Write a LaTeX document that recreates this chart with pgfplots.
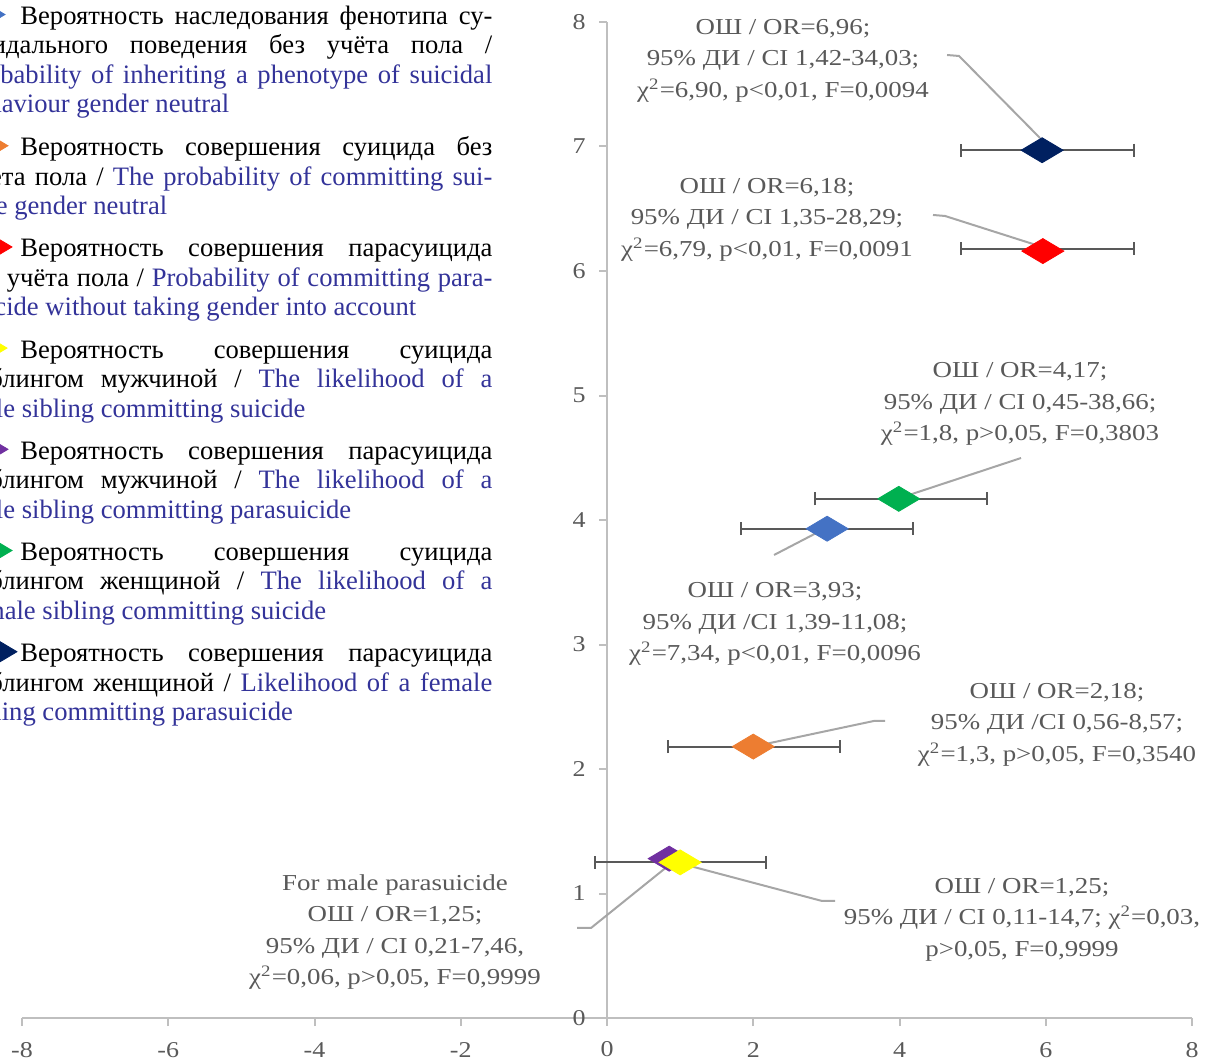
\documentclass[border=0pt]{standalone}
\usepackage{pgfplots}
\pgfplotsset{compat=1.18}
\usepackage{fontspec}
\setmainfont{Liberation Serif}
\usepackage{graphicx}
\definecolor{cBlue}{HTML}{4472C4}
\definecolor{cOrange}{HTML}{ED7D31}
\definecolor{cRed}{HTML}{FF0000}
\definecolor{cYellow}{HTML}{FFFF00}
\definecolor{cPurple}{HTML}{7030A0}
\definecolor{cGreen}{HTML}{00B050}
\definecolor{cNavy}{HTML}{002060}
\definecolor{txtgray}{HTML}{595959}
\definecolor{axgray}{HTML}{BFBFBF}
\definecolor{leadgray}{HTML}{A6A6A6}
\definecolor{errgray}{HTML}{595959}
\definecolor{engblue}{HTML}{333399}
\newcommand\eng[1]{\textcolor{engblue}{#1}}
\newcommand\ann[1]{\scalebox{1.18}[1]{\begin{tabular}{@{}c@{}}#1\end{tabular}}}
\newcommand\chisq{χ\textsuperscript{2}}
\pgfplotsset{
  dmd/.style={only marks, mark=diamond*, mark size=6.25pt, mark options={xscale=2.24, draw=#1, fill=#1}},
  lead/.style={no marks, draw=leadgray, line width=1pt},
}
\begin{document}
\begin{tikzpicture}
\clip (0,0) rectangle (604.5pt,530.5pt);
\useasboundingbox (0,0) rectangle (604.5pt,530.5pt);
\begin{axis}[
  at={(11pt,21.5pt)}, anchor=south west,
  scale only axis, width=585pt, height=498pt,
  xmin=-8, xmax=8, ymin=0, ymax=8,
  clip=false,
  axis lines=middle,
  axis line style={-, draw=axgray, line width=1pt},
  xtick={-8,-6,-4,-2,0,2,4,6,8},
  ytick={0,1,2,3,4,5,6,7,8},
  tick style={draw=axgray, line width=1pt},
  major tick length=4pt,
  tick align=outside,
  /pgf/number format/assume math mode=true,
  xticklabel={\scalebox{1.15}[1]{\pgfmathprintnumber{\tick}}},
  yticklabel={\scalebox{1.15}[1]{\pgfmathprintnumber{\tick}}},
  xticklabel style={font=\fontsize{11.3}{13}\selectfont, text=txtgray, anchor=north, inner sep=0pt, yshift=-8pt},
  yticklabel style={font=\fontsize{11.3}{13}\selectfont, text=txtgray, anchor=east, inner sep=0pt, xshift=-6.5pt},
]
% origin ticks
\addplot[no marks, draw=axgray, line width=1pt] coordinates {(0,0) (0,-0.064)};
\addplot[no marks, draw=axgray, line width=1pt] coordinates {(0,0) (-0.109,0)};
% leader lines
\addplot[lead] coordinates {(4.650,7.735) (4.814,7.727) (5.921,7.068)};
\addplot[lead] coordinates {(4.458,6.450) (4.622,6.442) (5.867,6.209)};
\addplot[lead] coordinates {(5.662,4.498) (4.048,4.185)};
\addplot[lead] coordinates {(2.284,3.719) (2.995,3.936)};
\addplot[lead] coordinates {(3.802,2.386) (3.651,2.386) (2.038,2.185)};
\addplot[lead] coordinates {(3.118,0.940) (2.940,0.940) (1.135,1.221)};
\addplot[lead] coordinates {(-0.410,0.723) (-0.219,0.723) (0.834,1.221)};
% error bars
\addplot[draw=none, mark=none,
  error bars/.cd, x dir=both, x explicit,
  error bar style={draw=errgray, line width=1pt},
  error mark options={draw=errgray, line width=1pt, mark size=3.25pt, rotate=90}]
  coordinates {
  (6.02,6.97) +- (1.18,0)
  (6.02,6.18) +- (1.18,0)
  (4.02,4.17) +- (1.18,0)
  (3.01,3.93) +- (1.18,0)
  (2.01,2.18) +- (1.18,0)
  (1,1.25) +- (1.17,0)
  };
% points
\addplot[dmd=cNavy] coordinates {(5.95,6.97)};
\addplot[dmd=cRed] coordinates {(5.96,6.16)};
\addplot[dmd=cGreen] coordinates {(3.99,4.17)};
\addplot[dmd=cBlue] coordinates {(3.01,3.93)};
\addplot[dmd=cOrange] coordinates {(2,2.18)};
\addplot[dmd=cPurple] coordinates {(0.85,1.28)};
\addplot[dmd=cYellow] coordinates {(1,1.25)};
% legend keys (cut by page edge)
\addplot[dmd=cBlue] coordinates {(-8.520,8.060)};
\addplot[dmd=cOrange] coordinates {(-8.479,7.006)};
\addplot[dmd=cRed] coordinates {(-8.424,6.193)};
\addplot[dmd=cYellow] coordinates {(-8.492,5.381)};
\addplot[dmd=cPurple] coordinates {(-8.479,4.568)};
\addplot[dmd=cGreen] coordinates {(-8.424,3.755)};
\addplot[dmd=cNavy] coordinates {(-8.356,2.942)};
\end{axis}
\begin{scope}[x=0.5pt,y=0.5pt]
% origin tick labels
\begin{scope}[every node/.style={font=\fontsize{11.3}{13}\selectfont, text=txtgray, inner sep=0pt}]
\node[anchor=east] at (586,43) {\scalebox{1.15}[1]{0}};
\node[anchor=north] at (607,20) {\scalebox{1.15}[1]{0}};
\end{scope}
% legend text
\begin{scope}[font=\fontsize{13.3}{15}\selectfont, every node/.style={anchor=base west, inner sep=0pt}]
\node at (20,1036.5) {\makebox[236pt][s]{Вероятность наследования фенотипа су-}};
\node at (-37,1007) {\makebox[264.5pt][s]{ицидального поведения без учёта пола /}};
\node at (-37,977.5) {\makebox[264.5pt][s]{\eng{Probability of inheriting a phenotype of suicidal}}};
\node at (-37,948) {\eng{behaviour gender neutral}};
%
\node at (20,905.3) {\makebox[236pt][s]{Вероятность совершения суицида без}};
\node at (-37,875.8) {\makebox[264.5pt][s]{учёта пола / \eng{The probability of committing sui-}}};
\node at (-37,846.3) {\eng{cide gender neutral}};
%
\node at (20,804.1) {\makebox[236pt][s]{Вероятность совершения парасуицида}};
\node at (-37,774.6) {\makebox[264.5pt][s]{без учёта пола / \eng{Probability of committing para-}}};
\node at (-37,745.1) {\eng{suicide without taking gender into account}};
%
\node at (20,702.9) {\makebox[236pt][s]{Вероятность совершения суицида}};
\node at (-37,673.4) {\makebox[264.5pt][s]{сиблингом мужчиной / \eng{The likelihood of a}}};
\node at (-37,643.9) {\eng{male sibling committing suicide}};
%
\node at (20,601.7) {\makebox[236pt][s]{Вероятность совершения парасуицида}};
\node at (-37,572.2) {\makebox[264.5pt][s]{сиблингом мужчиной / \eng{The likelihood of a}}};
\node at (-37,542.7) {\eng{male sibling committing parasuicide}};
%
\node at (20,500.5) {\makebox[236pt][s]{Вероятность совершения суицида}};
\node at (-37,471) {\makebox[264.5pt][s]{сиблингом женщиной / \eng{The likelihood of a}}};
\node at (-37,441.5) {\eng{female sibling committing suicide}};
%
\node at (20,399.3) {\makebox[236pt][s]{Вероятность совершения парасуицида}};
\node at (-37,369.8) {\makebox[264.5pt][s]{сиблингом женщиной / \eng{Likelihood of a female}}};
\node at (-37,340.3) {\eng{sibling committing parasuicide}};
\end{scope}
% annotations
\begin{scope}[font=\fontsize{11.4}{15.75}\selectfont, every node/.style={text=txtgray, inner sep=0pt, anchor=center}]
\node at (783,1001.5) {\ann{ОШ / OR=6,96;\\95\% ДИ / CI 1,42-34,03;\\\chisq=6,90, p<0,01, F=0,0094}};
\node at (767,842.5) {\ann{ОШ / OR=6,18;\\95\% ДИ / CI 1,35-28,29;\\\chisq=6,79, p<0,01, F=0,0091}};
\node at (1020,658) {\ann{ОШ / OR=4,17;\\95\% ДИ / CI 0,45-38,66;\\\chisq=1,8, p>0,05, F=0,3803}};
\node at (775,438) {\ann{ОШ / OR=3,93;\\95\% ДИ /CI 1,39-11,08;\\\chisq=7,34, p<0,01, F=0,0096}};
\node at (1057,337.5) {\ann{ОШ / OR=2,18;\\95\% ДИ /CI 0,56-8,57;\\\chisq=1,3, p>0,05, F=0,3540}};
\node at (1022,142.5) {\ann{ОШ / OR=1,25;\\95\% ДИ / CI 0,11-14,7; \chisq=0,03,\\p>0,05, F=0,9999}};
\node at (395,130) {\ann{For male parasuicide\\ОШ / OR=1,25;\\95\% ДИ / CI 0,21-7,46,\\\chisq=0,06, p>0,05, F=0,9999}};
\end{scope}
\end{scope}
\end{tikzpicture}
\end{document}
